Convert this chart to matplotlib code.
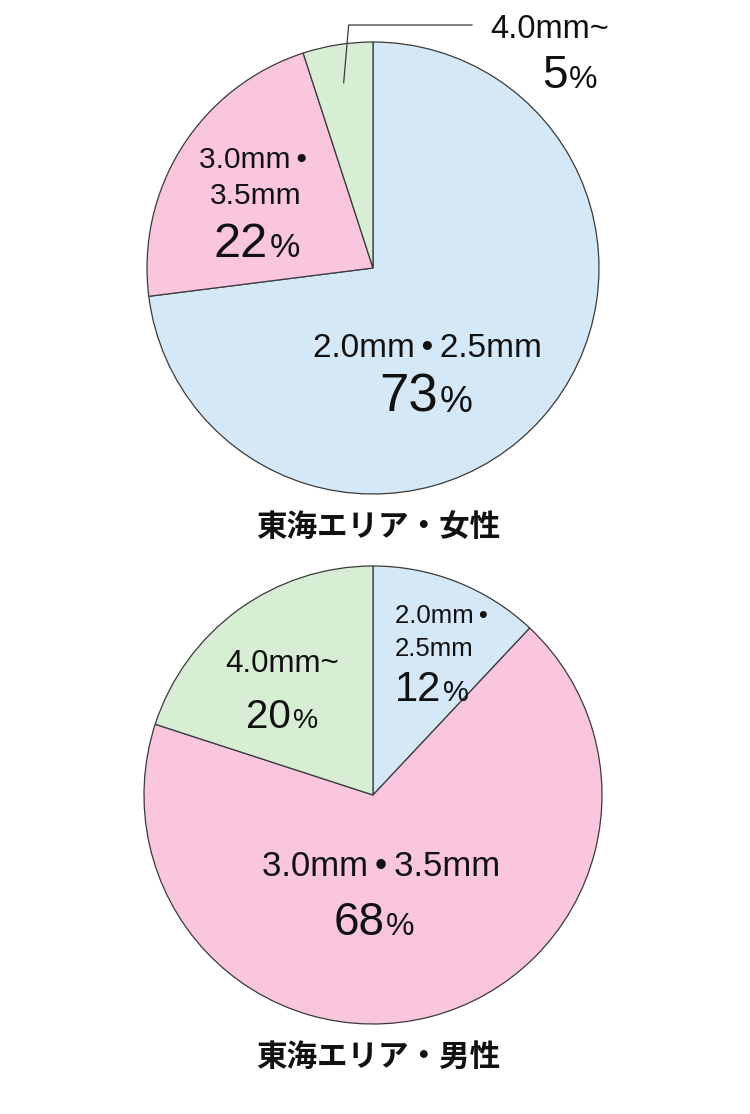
import matplotlib
matplotlib.use('Agg')
import matplotlib.pyplot as plt
import numpy as np

# ---- data ----
categories = ['2.0mm・2.5mm', '3.0mm・3.5mm', '4.0mm~']
female_values = [73, 22, 5]
male_values = [12, 68, 20]
DOT = '\u2009•\u2009'
female_labels = [['2.0mm' + DOT + '2.5mm'], ['3.0mm' + DOT, '3.5mm'], ['4.0mm~']]
male_labels = [['2.0mm' + DOT, '2.5mm'], ['3.0mm' + DOT + '3.5mm'], ['4.0mm~']]
chart_titles = ['東海エリア・女性', '東海エリア・男性']
colors = ['#d5e8f8', '#f9c6dd', '#d7eed4']

W, H = 750, 1114
fig = plt.figure(figsize=(W / 100, H / 100), dpi=100)
fig.patch.set_facecolor('white')
ax = fig.add_axes([0, 0, 1, 1])

LAT = ['Liberation Sans', 'DejaVu Sans']
CJK = ['Noto Sans CJK JP', 'DejaVu Sans']


def py(y):
    return H - y


# layout per wedge: (label x, label baselines, label fs, pct x, pct baseline, pct fs, align)
charts = [
    dict(values=female_values, labels=female_labels, title=chart_titles[0],
         center=(373, 268), radius=226, title_y=527,
         layout=[(427, [357], 24, 426, 412, 38, 'center'),
                 (256, [168, 204], 21.5, 257, 257, 35, 'center'),
                 (550, [38], 23.5, 570, 88, 33, 'center')],
         leader=2),
    dict(values=male_values, labels=male_labels, title=chart_titles[1],
         center=(373, 795), radius=229, title_y=1057,
         layout=[(395, [623, 656], 18.5, 395, 701, 30, 'left'),
                 (381, [876], 25, 374, 935, 33, 'center'),
                 (282, [672], 22.5, 282, 728, 29, 'center')],
         leader=None),
]

fig.canvas.draw()
renderer = fig.canvas.get_renderer()


def pct_label(x, y, value, fs, align):
    t1 = ax.text(0, py(y), f'{value}', fontsize=fs, family=LAT,
                 ha='left', va='baseline', color='#111111')
    t2 = ax.text(0, py(y), '%', fontsize=fs * 0.7, family=LAT,
                 ha='left', va='baseline', color='#111111')
    w1 = t1.get_window_extent(renderer).width
    w2 = t2.get_window_extent(renderer).width
    gap = 1.5
    total = w1 + gap + w2
    x0 = x - total / 2 if align == 'center' else x
    t1.set_x(x0)
    t2.set_x(x0 + w1 + gap)


for ch in charts:
    cx, cy = ch['center']
    wedges, _ = ax.pie(ch['values'], colors=colors, startangle=90, counterclock=False,
                       radius=ch['radius'], center=(cx, py(cy)),
                       wedgeprops=dict(edgecolor='#3a3a3a', linewidth=0.9))
    for lines, val, lay in zip(ch['labels'], ch['values'], ch['layout']):
        lx, bls, lfs, px, pb, pfs, align = lay
        for line, bl in zip(lines, bls):
            ax.text(lx, py(bl), line, fontsize=lfs, family=LAT,
                    ha=align, va='baseline', color='#111111')
        pct_label(px, pb, val, pfs, align)
    if ch['leader'] is not None:
        w = wedges[ch['leader']]
        th = np.deg2rad((w.theta1 + w.theta2) / 2)
        r = ch['radius'] * 0.83
        x0 = cx + r * np.cos(th)
        y0 = py(cy) + r * np.sin(th)
        ax.plot([x0, x0 + 5, 472], [y0, py(25), py(25)], color='#3a3a3a', lw=0.9)
    ax.text(378, py(ch['title_y']), ch['title'], fontsize=22, family=CJK,
            fontweight='bold', ha='center', va='center', color='#111111')

ax.set_xlim(0, W)
ax.set_ylim(0, H)
ax.set_aspect('equal', adjustable='box')
ax.axis('off')

fig.savefig('out.png', dpi=100, facecolor='white')
